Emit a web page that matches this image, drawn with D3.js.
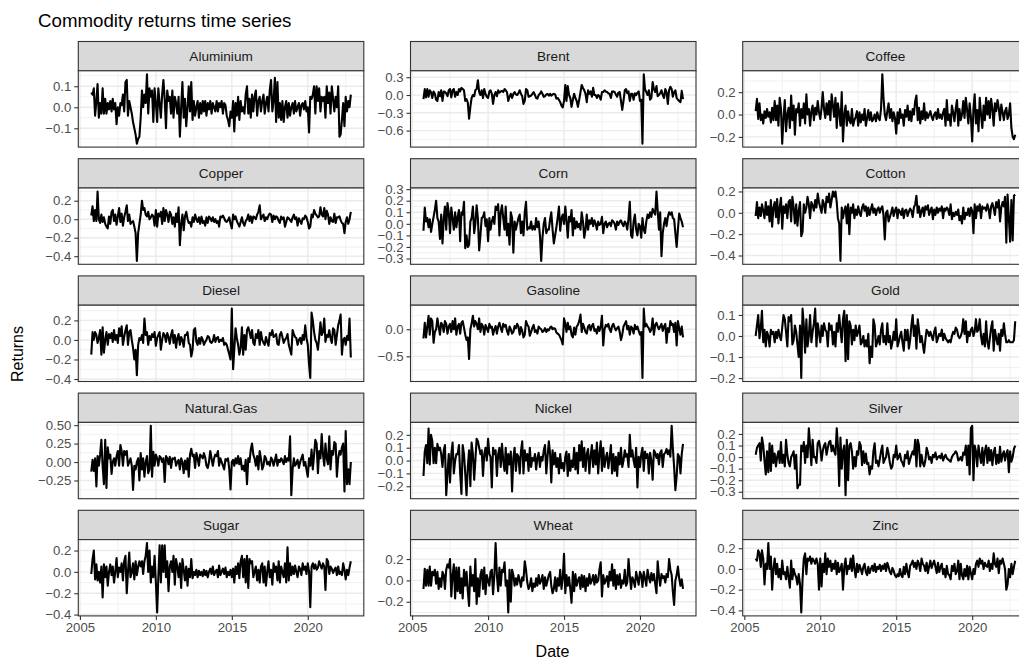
<!DOCTYPE html>
<html>
<head>
<meta charset="utf-8">
<script src="https://cdn.jsdelivr.net/npm/d3@7"></script>
<style>
  body { margin: 0; background: #fff; }
  svg { display: block; font-family: "Liberation Sans", Arial, Helvetica, sans-serif; }
</style>
</head>
<body>
<svg id="chart" width="1019" height="661"></svg>
<script>
// monthly returns, Oct 2005 .. Nov 2022 (one line per calendar year)
const commodities = ['Aluminium', 'Brent', 'Coffee', 'Copper', 'Corn', 'Cotton', 'Diesel', 'Gasoline',
  'Gold', 'Natural.Gas', 'Nickel', 'Silver', 'Sugar', 'Wheat', 'Zinc'];

const aluminium = [.07, .06, .09,
  -.04, .03, .11, -.05, .02, -.03, .09, -.03, .04, -.03, .02, -.01,
  .03, -.02, .04, -.01, .02, -.08, .0, -.04, .02, .01, .06, -.02,
  .12, .13, -.04, .03, .0, -.03, -.07, -.1, -.13, -.173, -.15, -.14,
  -.05, .08, .0, .06, .02, .157, -.03, .09, .05, .08, -.07, .09,
  .02, -.07, .09, .02, -.05, .06, .13, .04, -.1, .08, .03, .05,
  -.03, .08, -.05, .05, .02, -.03, .05, -.14, .0, .12, -.05, .04,
  -.09, .0, .1, -.02, .12, -.06, .03, -.04, .0, .03, -.05, .02,
  -.03, .03, -.02, .03, -.04, .02, -.01, .03, -.03, .02, .0, -.02,
  .03, -.02, .02, .0, .03, -.03, .02, .01, -.04, -.06, -.09, -.02,
  -.05, .03, -.115, .02, -.04, .05, -.06, .03, -.02, .0, -.03, .06,
  .1, -.03, .04, -.05, .06, -.02, .05, .08, -.04, .03, .05, -.02,
  .03, .06, -.03, .02, .05, -.02, .08, .13, -.02, .03, .14, -.07,
  .12, -.05, .02, -.06, .03, -.07, .0, .03, -.05, .02, -.04, .0,
  .02, -.03, .03, -.02, .0, .02, -.04, .01, .02, -.01, .03, -.02,
  .0, -.12, .05, .04, .06, .1, -.03, .1, .03, .09, -.02, .05,
  .03, .05, -.05, .1, .02, .07, -.03, .1, .04, -.02, .05, .0,
  .1, -.14, -.13, -.06, .02, -.09, .05, -.02, .03, .0, .06];

const brent = [-.07, .1, -.04,
  .1, -.03, .08, .05, -.05, .06, .02, -.08, -.1, .05, -.02, .08,
  -.1, .06, .05, .03, -.02, .08, .1, -.04, .08, .1, -.03, .05,
  .0, .1, .06, .12, .1, .08, -.1, -.07, -.13, -.4, -.2, -.05,
  .0, -.02, .08, .1, .25, .05, .0, .08, -.05, .1, .02, -.03,
  -.05, .06, .08, .02, -.15, .0, .05, -.02, .08, .04, .06, .07,
  .05, .1, .08, .05, -.1, -.03, .02, -.05, .02, .05, .01, .0,
  .03, .08, .02, -.02, -.15, -.1, .1, .08, -.03, -.02, -.01, .02,
  .05, .0, -.05, -.06, .0, .02, .06, .02, -.03, -.02, .01, .02,
  -.01, .02, -.01, .01, .02, .01, -.06, -.05, -.08, -.12, -.18, -.21,
  -.1, .17, -.1, .15, .0, -.05, -.2, -.08, .02, -.05, -.1, -.2,
  -.08, .05, .17, .12, .08, .02, -.12, .08, .02, .06, -.03, .12,
  .0, .0, -.05, .0, -.02, -.08, .05, .05, .08, .06, .05, .03,
  .02, -.05, .06, .06, .05, .01, -.03, .04, .05, -.1, -.25, -.1,
  .08, .1, .03, .06, -.1, .02, .02, -.08, .03, .0, .04, .06,
  -.1, -.08, -.82, .35, .1, .05, .0, .08, -.08, -.05, .22, .1,
  .05, .15, -.02, .0, .03, .08, .0, -.05, .1, .05, -.15, .08,
  .14, .1, -.03, .05, .08, -.05, -.08, -.1, -.12, .07, -.07];

const coffee = [.03, .14, -.04,
  .1, -.05, .0, -.08, .03, -.03, .05, -.02, .02, -.07, .06, -.05,
  .12, -.05, .08, -.1, .15, .05, -.26, -.03, .13, -.15, .0, .06,
  -.12, .17, -.05, .08, -.18, .05, .02, .1, -.1, .05, -.03, .1,
  -.08, .18, .0, .05, -.1, .03, .08, -.05, .06, .0, .12, .02,
  -.04, .06, .2, .05, -.03, .1, .0, .12, -.05, .18, .08, -.02,
  .15, -.12, .1, .02, -.1, .2, -.24, .0, .08, -.1, .03, -.05,
  -.08, .05, -.1, -.05, -.02, .03, -.1, .02, -.07, .0, -.05, .05,
  -.1, -.03, .04, -.05, .02, -.06, -.04, .0, -.06, .02, -.03, -.05,
  .05, .36, .15, .0, -.05, .03, .1, -.03, .05, -.06, .02, -.03,
  -.17, .02, -.08, .05, -.03, .0, -.1, .04, -.02, .08, -.05, .03,
  -.06, .05, .0, .12, .17, -.05, .06, -.08, .03, -.04, .1, -.05,
  .02, -.03, .0, .03, -.02, -.05, .0, .02, -.04, .05, -.03, .0,
  -.04, .02, .05, -.1, .13, -.05, .0, -.1, .08, .02, -.06, .05,
  .13, -.1, .05, -.05, .0, .12, -.03, .15, .04, -.08, .1, -.02,
  -.24, .05, .18, -.08, .04, -.15, .15, .0, -.12, .08, -.05, .15,
  .0, .12, -.03, .14, .05, -.1, .1, .03, .13, .06, -.05, .09,
  .02, -.05, .03, .06, -.04, .0, .1, -.12, -.2, -.22, -.18];

const copper = [.04, .14, -.02,
  .1, -.02, .3, .0, -.04, .05, -.03, .02, -.05, -.08, -.1, .03,
  -.05, .08, .1, -.02, .05, -.06, .03, .12, -.03, .06, -.07, .02,
  .08, .15, -.02, .05, -.05, -.03, -.02, -.08, -.15, -.45, -.15, -.05,
  .05, .2, .1, .12, .05, .03, .08, .0, .02, .05, .03, -.07,
  .1, -.08, .06, .03, .08, -.05, .12, -.02, .1, .05, -.03, .08,
  .05, -.05, .02, -.08, .06, -.03, .13, -.28, -.05, .05, -.12, .03,
  .08, .0, -.04, -.03, -.08, .02, -.03, .05, .0, -.03, .02, -.05,
  .03, -.04, -.02, -.07, .02, -.04, .03, .01, -.02, .02, -.03, .0,
  -.04, -.02, -.08, .03, .02, .04, .01, -.02, -.03, -.01, .02, -.05,
  -.1, .05, .0, .03, -.02, -.05, -.08, -.03, .02, -.04, -.07, -.02,
  .0, .05, -.02, .03, -.04, .03, .02, .0, .05, .08, .15, .0,
  .03, .05, -.02, .02, .0, .04, .06, .05, -.03, .04, .0, .03,
  .02, -.02, -.04, .03, .0, .02, -.08, -.03, .02, .01, -.01, -.03,
  .02, .05, .0, .02, -.07, .01, -.02, -.05, .01, .0, .04, .02,
  -.03, -.1, -.08, .05, .02, .1, .06, .04, .02, .03, .13, .05,
  .03, .12, .0, .09, .05, -.05, .02, -.02, -.03, .06, -.04, .02,
  .02, .03, -.01, -.04, -.05, -.15, -.03, .02, -.05, .0, .08];

const corn = [-.06, .14, .02,
  .05, -.03, .04, -.07, .0, .06, .12, .2, .05, .02, -.13, .08,
  -.17, .05, .15, -.05, .18, .1, -.08, .14, .05, -.05, .1, -.03,
  .06, .12, -.15, .1, .08, .19, -.21, -.1, -.2, -.18, .02, .05,
  .15, -.08, .0, .16, .05, -.23, -.1, .05, .06, .1, -.02, .04,
  -.15, .05, -.05, .02, .06, .0, .15, .12, .17, -.1, .1, .16,
  .05, -.05, .15, -.1, .0, -.18, .1, .05, -.25, .02, -.05, .0,
  .05, .08, -.08, .02, -.1, .1, .19, -.05, -.03, -.04, .02, -.05,
  -.02, -.05, .05, -.03, .02, -.1, -.32, -.12, .0, .05, -.08, -.05,
  -.05, .04, .1, -.05, -.17, -.1, -.03, .05, .15, -.06, .05, .08,
  .0, .15, .03, -.12, .06, .02, .12, -.1, .05, -.04, .02, -.03,
  .0, -.05, .1, .02, -.12, -.05, .08, -.05, .03, .0, .05, -.02,
  .03, .0, -.05, .02, -.01, .0, .06, -.08, .0, .02, -.03, .0,
  .01, -.02, .03, .02, .0, -.05, .02, -.01, .02, .03, .0, -.02,
  .02, .0, -.05, .05, .19, -.1, -.12, .02, .08, -.05, -.1, .0,
  -.02, -.12, .05, -.05, -.08, .02, .08, .05, .1, .06, .13, .1,
  .08, .28, .12, -.05, .1, -.28, -.08, .0, .05, -.02, .06, .1,
  .08, .1, .05, .04, -.08, -.2, -.05, .09, .05, .02, -.03];

const cotton = [-.03, .1, -.05,
  .05, -.03, .08, .02, -.05, .1, -.02, .06, -.08, .12, -.13, .05,
  .1, -.04, .13, -.1, .05, .14, -.15, .06, .0, .08, -.05, .1,
  .12, -.08, .15, .05, -.1, .08, -.12, .02, .1, -.22, -.18, .08,
  .0, .05, .15, .08, -.05, .1, .07, .02, .12, .05, .18, .1,
  .05, .0, .12, .08, .0, .15, .1, .18, .05, .12, .2, .15,
  .2, .1, -.05, -.1, -.45, .05, -.05, .02, .06, -.1, .08, -.2,
  .05, .0, .08, -.05, .03, -.02, .06, .0, -.03, .05, .08, .02,
  .06, -.03, .05, -.02, .03, .08, .0, .04, -.02, .03, .05, .0,
  .04, .06, -.02, -.25, .0, .02, -.08, -.04, .0, .05, -.03, .02,
  .05, -.05, .03, .01, -.02, .04, -.05, .02, .03, -.03, .01, .04,
  .02, -.04, .05, .08, .16, .0, .06, -.04, .02, .05, -.03, .06,
  .03, .07, -.02, .02, .05, -.06, .03, -.02, .05, .0, .04, .02,
  .06, -.05, .04, .02, .05, .03, -.02, .08, -.06, .0, -.03, .01,
  -.02, .03, -.07, -.03, -.1, .05, -.06, .0, -.02, .04, -.03, .05,
  .02, -.19, .08, -.05, .06, .02, .08, -.05, .06, .04, .05, .02,
  .08, .03, -.05, .06, .09, .04, -.02, .1, .05, .12, -.08, .05,
  .1, .06, .15, -.28, .17, -.05, -.27, .12, -.26, .16, .17];

const diesel = [-.15, .08, .0,
  .08, .05, -.03, .02, .1, -.15, .13, -.13, .0, .08, -.05, .06,
  .02, .07, -.02, .1, .0, .05, -.03, .12, .04, .14, -.05, .03,
  .1, .15, -.05, .08, .1, .0, -.08, -.2, -.1, -.36, -.05, .02,
  .0, .05, -.03, .22, .05, .08, -.05, .04, .0, .06, .03, .08,
  -.06, .02, .05, .08, -.1, .0, .07, .05, -.02, .07, .03, -.04,
  .05, .1, -.03, .05, -.08, .02, .06, -.05, .03, .0, -.07, .05,
  .05, .08, -.03, -.05, -.17, -.1, .1, .12, -.02, -.05, .02, -.04,
  .03, .0, -.05, -.02, .0, .04, .03, -.02, -.03, -.01, .05, -.02,
  .02, .03, -.02, .0, -.01, .02, -.05, -.03, -.05, -.1, -.15, -.2,
  .32, -.3, -.1, .12, .02, -.05, -.15, -.08, .13, -.15, .05, -.1,
  .1, .13, .08, .02, .1, -.03, -.05, .06, .02, .1, -.05, .08,
  .0, -.03, -.05, .03, -.02, -.06, .07, .05, .1, .03, .04, .06,
  -.04, -.05, .05, .08, .03, -.03, .0, .02, .06, -.05, -.1, -.15,
  .1, .06, .03, .02, -.05, .0, .02, -.04, .05, .0, .15, .02,
  -.05, -.25, -.39, .28, .2, .08, .0, -.03, -.1, .03, .18, .05,
  .08, .22, -.02, .05, .03, .1, .02, -.03, .12, .1, -.05, .05,
  .15, .2, .26, -.15, .0, .02, -.05, .04, .0, .22, -.18];

const gasoline = [-.17, .12, -.15,
  .05, .25, -.1, .2, .15, -.25, -.05, .0, .2, .05, -.1, .12,
  .08, -.05, .15, .1, -.08, .05, .1, -.05, .15, .0, .2, -.1,
  .05, .1, -.08, .12, .15, .03, -.1, -.2, -.15, -.55, .0, .1,
  .25, .05, .15, .1, .0, .2, -.05, .1, .05, -.1, .08, .02,
  -.05, .1, .03, .05, -.1, .0, .06, -.08, .05, .12, .03, -.05,
  .1, .05, .08, -.03, -.1, .05, .0, -.08, -.05, .06, .02, .1,
  .05, -.1, .04, -.03, -.15, -.1, .15, .08, .05, -.12, -.05, .03,
  .08, -.05, -.02, -.08, .05, .02, .0, -.05, -.03, .02, -.05, .0,
  -.02, .03, .05, .0, .02, .01, -.06, -.08, -.1, -.15, -.2, -.28,
  .2, .1, -.05, .12, .0, .05, -.1, -.15, .03, -.1, .05, .08,
  .15, .27, -.05, .1, .03, -.05, -.08, .05, .08, -.02, .06, .1,
  -.03, .0, -.08, .05, -.03, .05, .25, -.3, .0, .08, .05, .1,
  .0, -.05, .06, .1, .03, -.02, .02, .05, -.05, -.2, -.1, .05,
  .1, .15, .0, .06, -.1, .05, .02, -.08, .08, .0, .05, -.03,
  -.1, -.05, -.9, .38, .05, .1, .05, .02, -.05, .0, .2, -.1,
  .08, .12, .05, .0, .05, .1, -.03, .05, .1, -.25, .02, -.05,
  .15, .08, .1, -.05, .12, -.3, .15, .02, -.1, .05, -.15];

const gold = [.0, .05, .1,
  -.01, .04, .12, -.03, .03, -.05, .02, .0, -.05, .03, .01, .02,
  -.03, .02, -.01, .03, .0, -.02, .04, .1, .08, .02, -.05, .09,
  .07, .1, -.04, -.02, .05, .02, -.04, -.1, .05, -.2, .13, .05,
  -.08, .08, -.05, .0, .1, -.03, .02, .06, .13, -.05, .06, .02,
  -.03, .05, .0, .06, .03, .02, -.05, .06, .03, .05, -.04, .02,
  -.05, .06, .02, .1, .03, -.03, .08, .12, -.12, .1, -.11, .07,
  .05, -.04, .03, -.02, .05, .0, .02, .05, -.04, -.03, .0, -.05,
  -.02, -.05, .01, -.13, -.05, -.1, .08, .05, -.05, -.03, .0, -.04,
  .03, .06, -.03, .0, -.04, .06, -.03, .0, -.06, -.03, .02, -.02,
  .08, -.05, -.03, .0, .02, -.03, -.07, .03, -.02, .03, -.06, -.02,
  .05, .1, .0, .05, -.06, .08, .03, -.03, .0, -.04, -.08, -.02,
  .03, .02, .0, .02, .0, -.02, .02, .04, -.03, -.01, .01, .0,
  .03, -.02, .01, -.01, -.02, -.03, -.02, -.03, .0, .02, .01, .04,
  .03, .0, -.01, .0, .02, .08, .01, .07, -.03, .02, .0, .03,
  .04, .0, .02, .08, .02, .03, .08, .0, -.04, .01, -.05, .07,
  -.03, -.06, -.01, .04, .07, -.07, .03, -.01, -.04, .01, -.07, .03,
  .0, .06, .01, -.03, -.03, -.02, -.03, -.03, -.03, -.02, .07];

const naturalGas = [-.13, .03, -.12,
  .05, -.33, .08, -.05, .1, .3, -.05, -.3, .3, -.35, .2, .05,
  .1, -.16, .0, .05, -.05, .08, .15, -.05, .23, .15, -.05, .15,
  .1, .15, -.05, .0, .05, -.05, -.38, -.05, -.1, .0, .05, -.25,
  .12, -.1, .05, -.2, .0, .08, -.15, -.1, .49, -.2, .14, -.05,
  .1, .05, -.05, .08, .06, .0, .05, -.27, .08, .05, -.03, .07,
  -.08, .05, .04, .06, -.05, .0, .03, -.1, .05, .0, -.15, .02,
  -.1, .05, -.2, .1, .18, .08, .1, -.08, .12, .05, -.05, .1,
  .08, .05, .12, .06, -.05, -.08, .0, .15, .05, -.05, .05, .1,
  .08, .15, -.05, .05, .0, -.05, -.1, .04, .02, .05, -.1, -.37,
  .0, .03, -.05, .05, -.02, .08, -.03, .05, -.1, -.05, -.12, .03,
  -.3, .05, .0, .17, .25, .1, .05, -.05, .08, -.1, .15, .05,
  -.1, -.05, .08, .05, -.03, .0, -.05, .06, .03, -.05, .02, .1,
  -.05, .03, .0, .05, .02, -.03, .08, .0, .05, .02, .35, -.45,
  -.1, .05, -.05, -.02, .03, -.08, .0, .05, .1, -.05, .0, -.1,
  -.2, .05, -.05, .17, -.1, .1, .3, .25, -.15, .15, .05, .38,
  .1, -.05, .25, .05, -.03, .35, -.1, .15, .1, .27, .25, -.2,
  .05, .15, .1, .2, .25, -.4, .42, -.3, -.1, -.3, .0];

const nickel = [-.12, .07, .12,
  -.02, .25, -.03, .2, .15, -.02, .1, -.02, .13, .08, .1, .05,
  -.05, .08, .12, -.27, -.1, .05, -.17, .05, .14, -.1, .0, .05,
  .05, .12, -.1, -.26, .12, .05, -.1, -.27, -.05, .08, -.2, .14,
  .05, -.15, .0, .17, .15, .1, .05, .08, -.12, .05, .1, .0,
  .17, .05, .03, -.21, .1, .05, .08, -.12, .05, .1, -.05, .13,
  .0, -.08, .1, -.1, .05, -.03, .07, -.24, .02, .1, -.08, .05,
  .03, -.1, .07, .15, -.1, .08, .0, .05, -.08, .1, -.05, .02,
  .0, .05, -.07, .02, .06, -.05, .03, .0, .08, .12, -.1, .03,
  .15, .05, -.17, .08, -.03, .06, -.05, .02, -.1, .05, -.06, -.02,
  -.08, .03, .07, -.12, .05, -.08, .0, -.05, .1, -.07, .06, -.1,
  .12, .0, .15, -.05, .1, -.08, .05, .09, -.1, .03, .12, -.05,
  .08, -.03, .14, -.1, .05, .15, -.08, .1, -.05, .02, .06, -.06,
  .02, .12, -.1, .05, -.08, .03, -.12, .06, -.03, .1, -.05, .0,
  .08, .03, .05, -.05, .2, .03, .08, .0, -.05, .1, -.21, .03,
  -.05, .05, .1, -.08, .07, .02, .05, -.1, .06, .0, -.15, .08,
  .06, .02, .05, -.03, .06, .08, -.05, .05, .06, .09, .05, .08,
  .03, .27, .1, -.05, -.23, -.12, .05, .03, -.1, .05, .13];

const silver = [.02, .08, .1,
  .12, -.03, .17, .1, -.03, -.15, .05, -.13, .12, -.12, .1, -.05,
  .03, -.08, .0, .05, -.05, .13, -.05, .02, -.08, .15, .02, -.05,
  -.08, .0, .02, .05, -.1, .02, -.27, -.24, -.24, .1, .05, .13,
  -.05, .1, .0, .25, .1, -.07, .15, .0, .0, -.05, .12, .14,
  .08, -.03, .05, .1, .12, .02, .08, .13, .14, .05, .1, .05,
  .02, .25, .1, -.25, .17, -.1, .05, .1, -.33, .15, -.2, .1,
  .12, .05, -.1, .0, -.08, .05, .02, .13, .1, -.07, .05, -.05,
  .03, -.06, -.05, -.15, -.08, -.1, .05, .12, -.05, -.03, -.08, -.02,
  .05, .1, -.05, -.02, .0, .08, .03, -.05, -.1, -.08, .02, .0,
  .1, -.02, .0, .03, -.03, -.05, -.08, .02, -.01, .05, -.06, -.02,
  .02, .05, .02, .15, -.08, .15, .1, -.08, .02, -.05, -.08, -.03,
  .08, .04, -.02, .0, -.05, .02, .0, .04, -.02, .0, .01, -.01,
  .03, -.03, .0, .02, -.01, -.02, -.03, -.04, .0, .02, .03, .05,
  .03, -.03, -.02, .0, -.03, .04, .02, .1, -.07, .1, -.15, .25,
  .27, -.2, .1, .05, -.08, .1, .02, -.05, .08, -.07, .05, .1,
  -.05, .08, -.03, .06, -.07, .04, .08, -.06, .02, -.05, .09, -.04,
  .02, .05, -.03, .03, .06, -.13, .05, -.04, .0, .07, .1];

const sugar = [-.02, .12, .2,
  -.07, .07, -.08, .0, -.1, .05, -.24, .07, -.05, .05, -.13, .0,
  .07, -.03, .05, -.1, .0, .13, -.05, .04, .0, .08, -.08, .1,
  .15, -.2, .0, .18, -.05, .0, .08, -.07, .1, -.03, .05, .1,
  .05, .1, -.02, .1, .15, .27, .0, .2, -.1, .05, -.05, .15,
  -.1, -.38, -.05, .25, -.1, .25, .0, .25, -.05, .1, -.18, .05,
  .1, .0, .15, -.12, .12, .05, -.05, .08, -.15, .12, .02, -.08,
  .05, -.13, .03, -.05, .12, -.06, .0, -.03, .02, -.05, .01, -.03,
  .0, -.04, .02, -.03, .01, -.05, .0, .03, -.02, .05, -.03, .0,
  .02, -.05, .06, -.03, .0, .03, -.02, .04, -.05, .0, -.03, .02,
  -.05, .03, -.1, .05, -.02, .08, -.06, .1, .15, -.05, .12, -.1,
  .15, -.15, .12, .08, .1, -.05, .0, .05, -.08, .02, -.1, .05,
  .08, -.1, .05, -.13, .0, .1, -.05, .02, -.12, .08, .0, .05,
  -.08, .1, -.1, .05, .0, -.05, .08, -.1, .23, -.08, .08, -.03,
  .05, -.02, .06, .0, -.05, .05, .03, -.03, .08, .02, .05, -.02,
  .08, .0, -.33, .05, .08, .03, .07, .02, .04, .1, .06, .03,
  .08, .05, -.17, .12, .1, -.02, .05, .03, -.01, .02, .04, -.03,
  .05, -.02, .0, -.03, .08, .02, -.07, .02, -.03, .04, .1];

const wheat = [-.08, .11, -.05,
  .1, -.05, .13, -.05, .08, .05, .1, -.03, .08, -.08, .02, -.06,
  .08, .05, -.08, .1, .15, .12, .2, -.15, .05, .15, -.17, .12,
  -.1, .12, -.12, .02, -.17, .1, -.05, .08, -.1, -.24, .13, -.05,
  .05, -.1, .2, -.22, .02, -.15, .05, .1, -.08, .12, -.13, .05,
  .0, -.05, .08, .1, -.13, .05, .35, .05, -.1, .12, -.05, .1,
  .08, .17, -.05, .0, -.3, .1, -.2, .1, .05, -.05, .02, -.04,
  .05, .0, -.06, .03, .0, .18, .1, -.02, -.08, -.05, .02, -.1,
  -.03, -.06, .02, -.05, .05, -.03, .0, .05, -.08, .03, -.05, .0,
  .05, .08, -.05, -.12, -.08, .03, -.1, .02, -.05, .1, -.08, .02,
  .25, -.12, .05, -.05, .03, -.08, -.21, .08, -.1, .06, -.05, .0,
  .03, -.08, .05, -.06, .04, -.1, .02, -.05, .06, -.03, .0, .05,
  -.04, .05, -.02, .0, .1, .17, -.15, .05, -.03, .0, .04, -.06,
  .08, .0, .15, -.05, .1, -.08, .05, -.04, .06, -.07, .0, -.03,
  .1, -.05, -.02, .2, .05, -.08, .03, .0, -.06, .08, .02, -.04,
  .08, .05, -.06, .08, .02, -.05, .1, .03, -.02, .07, .0, .06,
  -.03, -.12, .18, .04, -.05, .06, .02, .04, -.02, .06, .03, .2,
  .1, .05, -.1, -.23, .0, .05, .13, .02, -.05, .01, -.08];

const zinc = [.1, .08, .18,
  .15, .02, .18, .1, -.15, .05, .0, .25, .0, .12, -.2, .0,
  .1, -.05, .05, -.08, .0, -.1, .08, -.05, -.03, -.1, .02, -.08,
  -.18, .08, -.1, .0, -.05, -.08, -.15, -.05, -.15, -.42, -.1, .1,
  .15, -.05, .1, .08, .12, .05, .1, .08, .05, .1, .05, -.2,
  .1, -.17, .05, -.03, .15, -.05, .1, .02, .08, -.02, .05, .0,
  .08, -.05, .06, -.03, .0, .05, -.2, .02, .1, -.05, .03, .0,
  .1, -.02, .13, .0, -.08, .05, -.03, .04, .0, -.05, .02, .05,
  -.03, -.06, .02, -.04, .0, .03, -.02, .05, -.03, .02, .0, .04,
  -.02, .03, .0, .05, -.02, .06, .02, -.03, -.05, .01, -.02, -.06,
  -.08, -.05, -.07, .0, -.06, -.08, .02, -.05, .05, -.03, -.08, .03,
  .05, .08, .02, .06, .0, .08, .05, -.02, .1, .05, .03, -.02,
  .06, -.04, .02, .08, .01, .05, .08, .02, -.04, .06, -.03, .02,
  .05, -.05, .0, -.08, .03, -.05, -.06, -.1, .03, -.02, .05, -.05,
  -.02, .08, -.1, .05, -.06, -.1, .0, -.07, .03, -.1, .02, -.04,
  -.1, .0, -.05, .05, .08, .02, .1, .05, .08, .0, .06, .03,
  .02, .08, -.02, .05, .0, .15, .05, .02, .1, -.04, .08, .05,
  .1, .05, .0, -.2, -.15, .0, -.08, .05, -.05, .02, .08];

const seriesValues = [aluminium, brent, coffee, copper, corn, cotton, diesel, gasoline,
  gold, naturalGas, nickel, silver, sugar, wheat, zinc];

// y-axis breaks per panel
const yTicks = [
  [-0.1, 0, 0.1],
  [-0.6, -0.3, 0, 0.3],
  [-0.2, 0, 0.2],
  [-0.4, -0.2, 0, 0.2],
  [-0.3, -0.2, -0.1, 0, 0.1, 0.2, 0.3],
  [-0.4, -0.2, 0, 0.2],
  [-0.4, -0.2, 0, 0.2],
  [-0.5, 0],
  [-0.2, -0.1, 0, 0.1],
  [-0.25, 0, 0.25, 0.5],
  [-0.2, -0.1, 0, 0.1, 0.2],
  [-0.3, -0.2, -0.1, 0, 0.1, 0.2],
  [-0.4, -0.2, 0, 0.2],
  [-0.2, 0, 0.2],
  [-0.4, -0.2, 0, 0.2]
];
const xTickYears = [2005, 2010, 2015, 2020];
const startMonth = new Date(2005, 9, 1);

// layout
const colLeft = [78.3, 410.5, 742.7];
const panelW = 285.5;
const firstTop = 41.5, rowStep = 117.2, stripH = 29.3, plotH = 76.3;
const tickFont = 13.2;

const svg = d3.select('#chart');
svg.append('rect').attr('width', 1019).attr('height', 661).attr('fill', '#fff');

const dates = d3.range(aluminium.length).map(i => d3.timeMonth.offset(startMonth, i));
const [d0, d1] = d3.extent(dates);
const xpad = (d1 - d0) * 0.05;
const x = d3.scaleTime()
  .domain([new Date(+d0 - xpad), new Date(+d1 + xpad)])
  .range([0, panelW]);

const yearDate = yr => new Date(yr, 0, 1);
const xMajor = xTickYears.map(yearDate);
const xMinor = d3.range(2000, 2030, 5)
  .map(yr => new Date((+yearDate(yr) + +yearDate(yr + 5)) / 2))
  .filter(d => d >= x.domain()[0] && d <= x.domain()[1]);

const line = d3.line()
  .x((d, i) => x(dates[i]))
  .y(d => d);

// number of decimals used by a set of breaks (0.25 -> 2, 0.1 -> 1)
function decimalsOf(ticks) {
  return Math.max(1, d3.max(ticks, t => {
    const s = String(Math.abs(t));
    return s.includes('.') ? s.split('.')[1].length : 0;
  }));
}

commodities.forEach((name, i) => {
  const col = i % 3, row = Math.floor(i / 3);
  const g = svg.append('g')
    .attr('transform', `translate(${colLeft[col]},${firstTop + row * rowStep})`);

  const vals = seriesValues[i];
  const [lo, hi] = d3.extent(vals);
  const ypad = (hi - lo) * 0.05;
  const y = d3.scaleLinear().domain([lo - ypad, hi + ypad]).range([plotH, 0]);

  const ticks = yTicks[i];
  const step = ticks[1] - ticks[0];
  const fmt = d3.format(`.${decimalsOf(ticks)}f`);
  const yMinor = d3.range(ticks.length + 1)
    .map(k => ticks[0] - step / 2 + k * step)
    .filter(v => v >= y.domain()[0] && v <= y.domain()[1]);

  // strip
  g.append('rect')
    .attr('width', panelW).attr('height', stripH)
    .attr('fill', '#d9d9d9').attr('stroke', '#333333').attr('stroke-width', 1.1);
  g.append('text')
    .attr('x', panelW / 2).attr('y', stripH / 2 + 4.8)
    .attr('text-anchor', 'middle')
    .attr('font-size', 13.6).attr('fill', '#1a1a1a')
    .text(name);

  const p = g.append('g').attr('transform', `translate(0,${stripH})`);
  p.append('rect').attr('width', panelW).attr('height', plotH).attr('fill', '#fff');

  // grid
  p.append('g').selectAll('line.hmin').data(yMinor).enter().append('line')
    .attr('x1', 0).attr('x2', panelW).attr('y1', d => y(d)).attr('y2', d => y(d))
    .attr('stroke', '#ebebeb').attr('stroke-width', 0.7);
  p.append('g').selectAll('line.vmin').data(xMinor).enter().append('line')
    .attr('y1', 0).attr('y2', plotH).attr('x1', d => x(d)).attr('x2', d => x(d))
    .attr('stroke', '#ebebeb').attr('stroke-width', 0.7);
  p.append('g').selectAll('line.hmaj').data(ticks).enter().append('line')
    .attr('x1', 0).attr('x2', panelW).attr('y1', d => y(d)).attr('y2', d => y(d))
    .attr('stroke', '#ebebeb').attr('stroke-width', 1.4);
  p.append('g').selectAll('line.vmaj').data(xMajor).enter().append('line')
    .attr('y1', 0).attr('y2', plotH).attr('x1', d => x(d)).attr('x2', d => x(d))
    .attr('stroke', '#ebebeb').attr('stroke-width', 1.4);

  // series
  p.append('path')
    .datum(vals.map(v => y(v)))
    .attr('d', line)
    .attr('fill', 'none').attr('stroke', '#000').attr('stroke-width', 2.1)
    .attr('stroke-linejoin', 'round').attr('stroke-linecap', 'butt');

  p.append('rect').attr('width', panelW).attr('height', plotH)
    .attr('fill', 'none').attr('stroke', '#333333').attr('stroke-width', 1.1);

  // y axis
  const ya = p.append('g').call(d3.axisLeft(y).tickValues(ticks).tickFormat(fmt).tickSize(4).tickPadding(3));
  ya.select('.domain').remove();
  ya.attr('font-family', null).attr('font-size', tickFont);
  ya.selectAll('.tick line').attr('stroke', '#333333').attr('stroke-width', 1.1);
  ya.selectAll('.tick text').attr('fill', '#4d4d4d');

  // x axis on bottom row only
  if (row === 4) {
    const xa = p.append('g').attr('transform', `translate(0,${plotH})`)
      .call(d3.axisBottom(x).tickValues(xMajor).tickFormat(d3.timeFormat('%Y')).tickSize(4).tickPadding(3));
    xa.select('.domain').remove();
    xa.attr('font-family', null).attr('font-size', tickFont);
    xa.selectAll('.tick line').attr('stroke', '#333333').attr('stroke-width', 1.1);
    xa.selectAll('.tick text').attr('fill', '#4d4d4d');
  }
});

// titles
svg.append('text')
  .attr('x', 38).attr('y', 27)
  .attr('font-size', 18.7).attr('fill', '#000')
  .text('Commodity returns time series');

svg.append('text')
  .attr('x', 552.5).attr('y', 657)
  .attr('text-anchor', 'middle')
  .attr('font-size', 16).attr('fill', '#000')
  .text('Date');

svg.append('text')
  .attr('transform', 'translate(23,354) rotate(-90)')
  .attr('text-anchor', 'middle')
  .attr('font-size', 16).attr('fill', '#000')
  .text('Returns');
</script>
</body>
</html>
